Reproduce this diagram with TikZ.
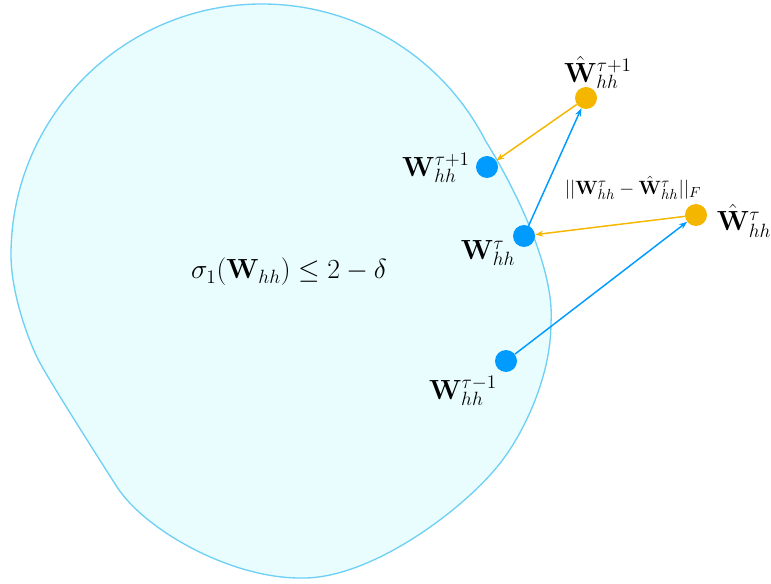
\documentclass[tikz,border=0pt]{standalone}
\usetikzlibrary{positioning,arrows.meta}

\definecolor{dotblue}{RGB}{0,155,255}
\definecolor{dotorange}{RGB}{245,182,0}
\definecolor{setfill}{RGB}{234,253,254}
\definecolor{setline}{RGB}{110,208,245}

\begin{document}
\begin{tikzpicture}[x=0.75pt,y=-0.75pt]
		\tikzstyle{every node}=[font=\fontsize{22pt}{26pt}\selectfont]
		\tikzstyle{bluedot}=[circle,fill=dotblue,inner sep=0pt,minimum size=16.5pt]
		\tikzstyle{orangedot}=[circle,fill=dotorange,inner sep=0pt,minimum size=16.5pt]
		\tikzstyle{bluearrow}=[draw=dotblue,line width=1.1pt,-{Stealth[length=6pt,width=4.5pt]}]
		\tikzstyle{orangearrow}=[draw=dotorange,line width=1.1pt,-{Stealth[length=6pt,width=4.5pt]}]
		
		\useasboundingbox (0,0) rectangle (771,584);
		
		% feasible set
		\draw [setline,fill=setfill,line width=1pt] (11,255)
			arc [start angle=180,end angle=333,radius=251]
			.. controls (510,180) and (555,265) .. (551,323)
			.. controls (551,380) and (520,440) .. (497,467)
			.. controls (462,510) and (370,580) .. (300,578)
			.. controls (230,578) and (145,530) .. (117,487)
			.. controls (101,462) and (55,390) .. (40,363)
			.. controls (30,345) and (11,295) .. cycle;
		\node (setlabel) at (289,272) {$\sigma_1(\mathbf{W}_{hh}) \leq 2-\delta$};
		
		\node [bluedot] (wnext) at (487,167) {};
		\node [bluedot] (wcur) at (524,236) {};
		\node [bluedot] (wprev) at (506,361) {};
		\node [orangedot] (hatnext) at (586,98) {};
		\node [orangedot] (hatcur) at (696,215) {};
		
		\draw [bluearrow] (wprev) -- (hatcur);
		\draw [orangearrow] (hatcur) -- (wcur);
		\draw [bluearrow] (wcur) -- (hatnext);
		\draw [orangearrow] (hatnext) -- (wnext);
		
		\node (lwnext) at (436,168) {$\mathbf{W}^{\tau+1}_{hh}$};
		\node (lwcur) at (488,253) {$\mathbf{W}^{\tau}_{hh}$};
		\node (lwprev) at (463,391) {$\mathbf{W}^{\tau-1}_{hh}$};
		\node (lhatnext) at (598,72) {$\hat{\mathbf{W}}^{\tau+1}_{hh}$};
		\node (lhatcur) at (744,221) {$\hat{\mathbf{W}}^{\tau}_{hh}$};
		\node [font=\fontsize{15pt}{18pt}\selectfont] (lnorm) at (633,188) {$||\mathbf{W}^{\tau}_{hh}-\hat{\mathbf{W}}^{\tau}_{hh}||_F$};
		
	\end{tikzpicture}
\end{document}
